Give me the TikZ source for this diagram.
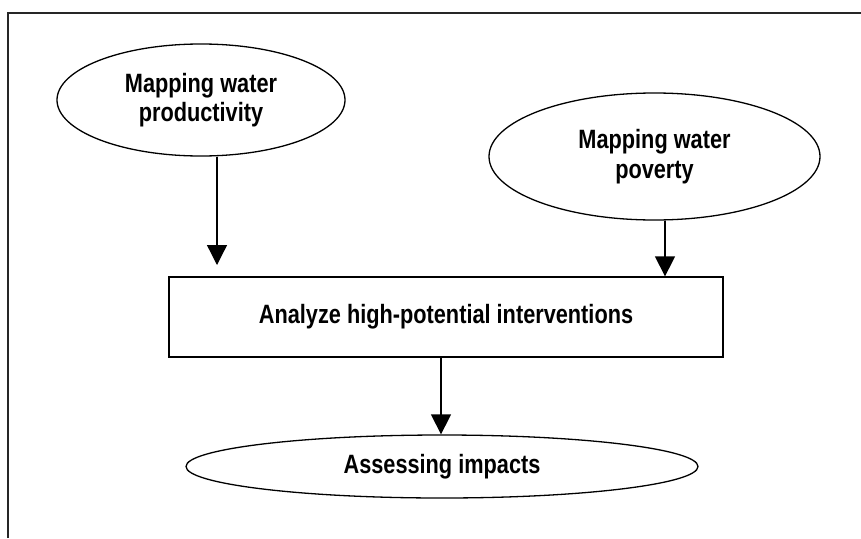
\documentclass[tikz,border=0pt]{standalone}
\usepackage{fontspec}
\setmainfont{Liberation Sans}
\newfontfamily\narrowbold[FakeStretch=0.82]{Liberation Sans Bold}
\usetikzlibrary{shapes.geometric,arrows.meta}
\begin{document}
\begin{tikzpicture}[x=1pt,y=-1pt,
  lbl/.style={font=\narrowbold\fontsize{26.5}{29.5}\selectfont, align=center, text=black},
  oval/.style={lbl, draw, line width=1.3pt, ellipse, inner sep=0pt},
  stepbox/.style={lbl, draw, line width=1.3pt, rectangle, inner sep=0pt},
  arr/.style={line width=1.3pt, -{Triangle[length=20pt,width=20pt]}},
  frameline/.style={line width=1.6pt, draw=black!85}]
\useasboundingbox (0,0) rectangle (861,538);
\draw[frameline] (8,538) -- (8,13) -- (861,13);
\node[oval, minimum width=288pt, minimum height=112pt] (e1) at (201,100) {Mapping water\\productivity};
\node[oval, minimum width=331pt, minimum height=127pt] (e2) at (654.5,156.5) {Mapping water\\poverty};
\node[stepbox, minimum width=554pt, minimum height=80pt] (box) at (446,317) {Analyze high-potential interventions};
\node[oval, minimum width=512pt, minimum height=63pt] (e3) at (442,466.5) {Assessing impacts};
\coordinate (t1) at (217,265);
\coordinate (c2) at (665,0);
\coordinate (c3) at (441,0);
\draw[arr] (t1 |- e1.south) -- (t1);
\draw[arr] (c2 |- e2.south) -- (c2 |- box.north);
\draw[arr] (c3 |- box.south) -- (c3 |- e3.north);
\end{tikzpicture}
\end{document}
